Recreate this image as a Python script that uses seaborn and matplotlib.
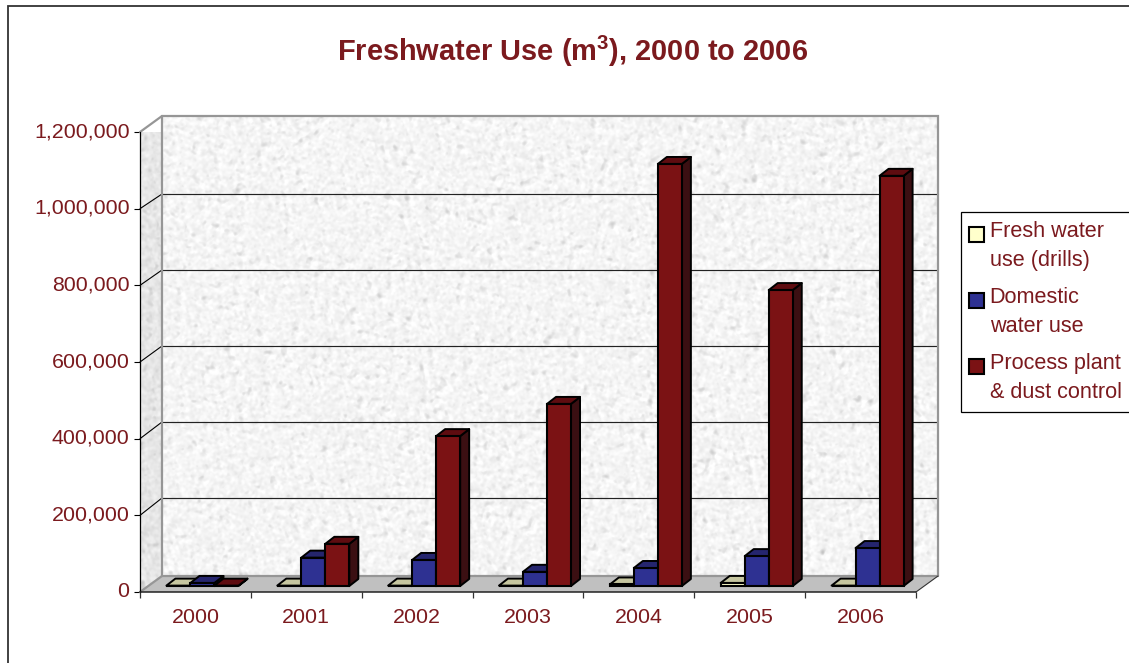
import numpy as np
import pandas as pd
import matplotlib
matplotlib.use("Agg")
import matplotlib.pyplot as plt
from matplotlib.patches import Polygon, Rectangle
from matplotlib.ticker import FuncFormatter
from matplotlib.transforms import ScaledTranslation
import seaborn as sns

years = ["2000", "2001", "2002", "2003", "2004", "2005", "2006"]
fresh_drills = [1000, 1000, 1000, 1000, 4000, 8000, 1000]
domestic = [8000, 74000, 68000, 37000, 47000, 78000, 99000]
process_dust = [1000, 110000, 391000, 475000, 1101000, 772000, 1070000]
series_names = ["Fresh water\nuse (drills)", "Domestic\nwater use", "Process plant\n& dust control"]
y_ticks = [0, 200000, 400000, 600000, 800000, 1000000, 1200000]
title_text = r"Freshwater Use (m$^{\mathbf{3}}$), 2000 to 2006"

front_colors = ["#FFFFCC", "#2E3192", "#7B1214"]
top_colors = ["#C6C6A0", "#25256E", "#5E0C10"]
side_colors = ["#8A8A6E", "#1C1C52", "#3B0F12"]
text_color = "#7B1A1E"

W, H = 1129, 663
sns.set_theme(style="white")
plt.rcParams["font.family"] = ["Liberation Sans", "DejaVu Sans"]
plt.rcParams["mathtext.fontset"] = "custom"
plt.rcParams["mathtext.rm"] = "Liberation Sans:bold"
plt.rcParams["mathtext.bf"] = "Liberation Sans:bold"

fig = plt.figure(figsize=(W / 100, H / 100), dpi=100, facecolor="white")
L, R, T, B = 140, 916, 132, 592
ax = fig.add_axes([L / W, 1 - B / H, (R - L) / W, (B - T) / H])
ax.patch.set_visible(False)

df = pd.DataFrame({
    "year": years * 3,
    "series": sum([[n] * 7 for n in series_names], []),
    "value": fresh_drills + domestic + process_dust,
})
sns.barplot(data=df, x="year", y="value", hue="series", order=years, hue_order=series_names,
            palette=front_colors, width=0.65, edgecolor="black", linewidth=1.5,
            saturation=1, errorbar=None, ax=ax, legend=False)

x0, x1 = -0.5, 6.5
y0, y1 = 0, 1200000
ax.set_xlim(x0, x1)
ax.set_ylim(y0, y1)
px_x = (x1 - x0) / (R - L)
px_y = (y1 - y0) / (B - T)
wall_dx, wall_dy = 22 * px_x, 16 * px_y      # depth of the box
bar_dx, bar_dy = 7 * px_x, 6 * px_y          # where the bars stand on the floor
ext_dx, ext_dy = 9 * px_x, 7 * px_y          # depth of each bar
wall_scale = 76 / 76.67                      # the back wall is slightly smaller in perspective


def blurred(nx, ny, seed, sigma):
    # Deterministic mottled paper background; decorative only, carries no data.
    yy, xx = np.mgrid[0:ny, 0:nx].astype(float)
    n = np.sin((xx + seed) * 12.9898 + (yy + seed) * 78.233) * 43758.5453
    n -= np.floor(n)
    fy = np.fft.fftfreq(ny)[:, None]
    fx = np.fft.rfftfreq(nx)[None, :]
    g = np.exp(-2 * np.pi**2 * (fx**2 + fy**2) * sigma**2)
    z = np.fft.irfft2(np.fft.rfft2(n) * g, s=(ny, nx))
    return (z - z.mean()) / z.std()


def paper(nx, ny, seed, base):
    fine = blurred(nx, ny, seed, 1.2)
    specks = blurred(nx, ny, seed + 5.0, 1.6)
    return np.clip(base + 0.018 * fine - 0.045 * np.clip(specks - 0.8, 0, None), 0, 1)


ax.imshow(paper(R - L, B - T, 3.0, 0.962), cmap="gray", vmin=0, vmax=1, aspect="auto", zorder=0, clip_on=False,
          extent=(x0 + wall_dx, x1 + wall_dx, y0 + wall_dy, y1 + wall_dy), interpolation="bilinear")
side_img = ax.imshow(paper(22, B - T, 9.0, 0.905), cmap="gray", vmin=0, vmax=1,
                     aspect="auto", zorder=0, extent=(x0, x0 + wall_dx, y0, y1 + wall_dy),
                     interpolation="bilinear")
side_poly = Polygon([(x0, y0), (x0 + wall_dx, y0 + wall_dy), (x0 + wall_dx, y1 + wall_dy), (x0, y1)],
                    closed=True, transform=ax.transData, fill=False, edgecolor="none", clip_on=False)
ax.add_patch(side_poly)
side_img.set_clip_path(side_poly)
ax.set_xlim(x0, x1)
ax.set_ylim(y0, y1)

grid_kw = dict(clip_on=False)
for v in y_ticks[1:-1]:
    gv = 600000 + (v - 600000) * wall_scale + wall_dy
    ax.plot([x0 + wall_dx, x1 + wall_dx], [gv, gv], color="#222222", lw=0.85, zorder=1, **grid_kw)
    ax.plot([x0, x0 + wall_dx], [v, gv], color="black", lw=0.8, zorder=2, **grid_kw)

# floor and wall borders
ax.add_patch(Polygon([(x0, y0), (x0 + wall_dx, wall_dy), (x1 + wall_dx, wall_dy), (x1, y0)], closed=True,
                     facecolor="#C0C0C0", edgecolor="none", zorder=2, clip_on=False))
gray = "#969696"
ax.plot([x0, x0 + wall_dx, x1 + wall_dx, x1 + wall_dx], [y1, y1 + wall_dy, y1 + wall_dy, wall_dy],
        color=gray, lw=1.6, zorder=2, solid_joinstyle="miter", **grid_kw)
ax.plot([x0 + wall_dx, x0 + wall_dx, x1 + wall_dx], [y1 + wall_dy, wall_dy, wall_dy],
        color=gray, lw=1.6, zorder=2, **grid_kw)
ax.plot([x0, x0 + wall_dx], [y0, wall_dy], color=gray, lw=1.6, zorder=2, **grid_kw)
ax.plot([x1, x1 + wall_dx], [y0, wall_dy], color="#333333", lw=0.8, zorder=2, **grid_kw)
ax.plot([x0, x0], [y0, y1], color="black", lw=0.9, zorder=3, **grid_kw)
ax.plot([x0, x1], [y0, y0], color="#222222", lw=1.1, zorder=3, **grid_kw)

# 3D faces built from the bars seaborn drew
for i, cont in enumerate(ax.containers):
    for p in cont.patches:
        bx, bw, bh = p.get_x() + bar_dx, p.get_width(), p.get_height()
        p.set_x(bx)
        p.set_y(bar_dy)
        p.set_clip_on(False)
        p.set_zorder(5 + 3 * i + 2)
        top = bar_dy + bh
        ax.add_patch(Polygon([(bx, top), (bx + ext_dx, top + ext_dy), (bx + bw + ext_dx, top + ext_dy), (bx + bw, top)],
                             closed=True, facecolor=top_colors[i], edgecolor="black", lw=1.4,
                             zorder=5 + 3 * i + 1, clip_on=False, joinstyle="round"))
        ax.add_patch(Polygon([(bx + bw, bar_dy), (bx + bw + ext_dx, bar_dy + ext_dy), (bx + bw + ext_dx, top + ext_dy), (bx + bw, top)],
                             closed=True, facecolor=side_colors[i], edgecolor="black", lw=1.4,
                             zorder=5 + 3 * i, clip_on=False, joinstyle="round"))

# axes furniture
sns.despine(ax=ax, left=True, bottom=True, right=True, top=True)
ax.set_xlabel("")
ax.set_ylabel("")
ax.set_yticks(y_ticks)
ax.yaxis.set_major_formatter(FuncFormatter(lambda v, _: f"{int(v):,}"))
ax.set_xticks(np.arange(x0, x1 + 0.5), labels=[""] * 8)
ax.set_xticks(np.arange(len(years)), labels=years, minor=True)
ax.tick_params(axis="y", which="major", left=True, length=4.5, width=0.8, color="black", pad=3,
               labelsize=15.4, labelcolor=text_color)
ax.tick_params(axis="x", which="major", bottom=True, length=4.2, width=0.9, color="#333333")
ax.tick_params(axis="x", which="minor", bottom=False, length=0, pad=11.5, labelsize=15.4, labelcolor=text_color)
lift = ScaledTranslation(0, 2.5 / 100, fig.dpi_scale_trans)
for lab in ax.get_yticklabels():
    lab.set_transform(lab.get_transform() + lift)

fig.text(572.5 / W, 1 - 51 / H, title_text, ha="center", va="center", fontsize=20.9, fontweight="bold",
         color=text_color)

# legend
handle_lift_px = 12
handles = [Rectangle((0, 0), 1, 1, facecolor=c, edgecolor="black", lw=1.5) for c in front_colors]
leg = fig.legend(handles, series_names, loc="upper left", bbox_to_anchor=(960.5 / W, 1 - 212.5 / H),
                 bbox_transform=fig.transFigure, frameon=True, fancybox=False, framealpha=1,
                 edgecolor="black", facecolor="white", fontsize=15.6, labelcolor=text_color,
                 handlelength=0.69, handleheight=0.69, handletextpad=0.25, labelspacing=0.74,
                 borderpad=0.4, borderaxespad=0)
leg.get_frame().set_linewidth(0.9)
for t in leg.get_texts():
    t.set_linespacing(1.5)
for h in leg.legend_handles:
    h.set_y(h.get_y() + handle_lift_px * 0.72)

# outer chart frame
fig.add_artist(Rectangle((7.5 / W, -0.05), 1.2, 0.05 + 1 - 6.5 / H, transform=fig.transFigure,
                         fill=False, edgecolor="#333333", lw=1.3))

fig.savefig("out.png", dpi=100, facecolor="white")
